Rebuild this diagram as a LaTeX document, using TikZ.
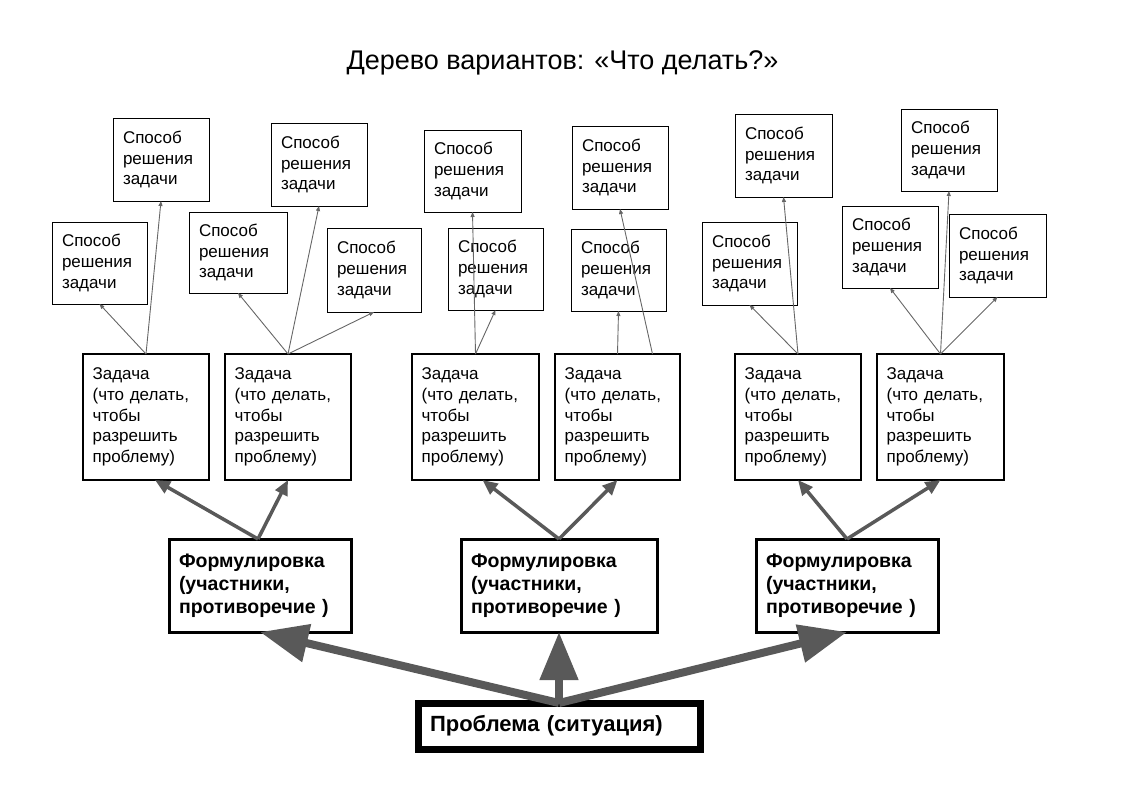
\documentclass[tikz,border=0pt]{standalone}
\usepackage{fontspec}
\setmainfont{Liberation Sans}
\usetikzlibrary{arrows.meta,calc}
\definecolor{arrgray}{RGB}{89,89,89}
\definecolor{thingray}{RGB}{102,102,102}
\newcommand\boxnode[8]{%
  \pgfmathsetmacro\bw{#5-#3}%
  \pgfmathsetmacro\bh{#6-#4}%
  \pgfmathsetmacro\tw{#5-#3-2*#8}%
  \node[#2, anchor=north west, outer sep=0pt, inner xsep=#8pt, inner ysep=0pt,
        align=left, minimum width=\bw pt, minimum height=\bh pt, text width=\tw pt]
        (#1) at (#3,#4) {#7};}
\begin{document}
\begin{tikzpicture}[x=1pt,y=-1pt,
  solbox/.style={draw=black, line width=1pt, font=\fontsize{17}{20.8}\selectfont},
  taskbox/.style={draw=black, line width=2pt, font=\fontsize{17}{20.8}\selectfont},
  formbox/.style={draw=black, line width=3pt, font=\fontsize{19.5}{23}\selectfont\bfseries},
  probbox/.style={draw=black, line width=7pt, font=\fontsize{22}{26}\selectfont\bfseries},
  smallarr/.style={draw=thingray, line width=0.9pt, -{Triangle[length=5pt,width=4pt]}},
  medarr/.style={draw=arrgray, line width=3.5pt, -{Triangle[length=15pt,width=13pt]}},
  bigarr/.style={draw=arrgray, line width=8pt, -{Triangle[length=48pt,width=37pt]}},
  titlestyle/.style={font=\fontsize{27}{31}\selectfont, anchor=base, inner sep=0pt}
]
\useasboundingbox (0,0) rectangle (1121,793);

\node[titlestyle] (title) at (562.5,69.8) {Дерево вариантов: «Что делать?»};

% solution boxes
\def\sol{Способ\\решения\\задачи}
\boxnode{A1}{solbox}{52}{222}{147}{304}{\sol}{10}
\boxnode{A2}{solbox}{113}{118}{209}{201}{\sol}{10}
\boxnode{B1}{solbox}{189}{212}{287}{293}{\sol}{10}
\boxnode{B2}{solbox}{271}{123}{367}{206}{\sol}{10}
\boxnode{B3}{solbox}{327}{228}{421}{312}{\sol}{10}
\boxnode{C1}{solbox}{448}{228}{543}{310}{\sol}{10}
\boxnode{C2}{solbox}{424}{130}{521}{212}{\sol}{10}
\boxnode{D1}{solbox}{571}{229}{666}{311}{\sol}{10}
\boxnode{D2}{solbox}{572}{126}{668}{209}{\sol}{10}
\boxnode{E1}{solbox}{702}{222}{797}{305}{\sol}{10}
\boxnode{E2}{solbox}{735}{114}{832}{197}{\sol}{10}
\boxnode{F1}{solbox}{842}{206}{938}{288}{\sol}{10}
\boxnode{F2}{solbox}{901}{109}{997}{191}{\sol}{10}
\boxnode{F3}{solbox}{949}{214}{1046}{297}{\sol}{10}

% task boxes
\def\task{Задача\\(что делать,\\чтобы\\разрешить\\проблему)}
\boxnode{T1}{taskbox}{83}{354}{209}{480}{\task}{9.6}
\boxnode{T2}{taskbox}{225}{354}{351}{480}{\task}{9.6}
\boxnode{T3}{taskbox}{412}{354}{539}{480}{\task}{9.6}
\boxnode{T4}{taskbox}{555}{354}{680}{480}{\task}{9.6}
\boxnode{T5}{taskbox}{735}{354}{861}{480}{\task}{9.6}
\boxnode{T6}{taskbox}{877}{354}{1004}{480}{\task}{9.6}

% formulation boxes
\def\form{Формулировка\\(участники,\\противоречие )}
\boxnode{P1}{formbox}{169}{539}{351}{632}{\form}{10}
\boxnode{P2}{formbox}{461}{539}{657}{632}{\form}{10}
\boxnode{P3}{formbox}{756}{539}{938}{632}{\form}{10}

% problem box
\boxnode{PR}{probbox}{418}{703}{700}{749}{Проблема (ситуация)}{12}

% task -> solution arrows
\draw[smallarr] (T1.north) -- (A1.south);
\draw[smallarr] (T1.north) -- (A2.south);
\draw[smallarr] (T2.north) -- (B1.south);
\draw[smallarr] (T2.north) -- (B2.south);
\draw[smallarr] (T2.north) -- (B3.south);
\draw[smallarr] (T3.north) -- (C2.south);
\draw[smallarr] (T3.north) -- (C1.south);
\draw[smallarr] (T4.north) -- (D1.south);
\coordinate (T4b) at ($(T4.north)+(35,0)$);
\draw[smallarr] (T4b) -- (D2.south);
\draw[smallarr] (T5.north) -- (E1.south);
\draw[smallarr] (T5.north) -- (E2.south);
\draw[smallarr] (T6.north) -- (F1.south);
\draw[smallarr] (T6.north) -- (F2.south);
\draw[smallarr] (T6.north) -- (F3.south);

% formulation -> task arrows
\coordinate (P1t) at ($(P1.north)+(-2,0)$);
\coordinate (T1b) at ($(T1.south)+(9,0)$);
\coordinate (T3b) at ($(T3.south)+(7,0)$);
\draw[medarr] (P1t) -- (T1b);
\draw[medarr] (P1t) -- (T2.south);
\draw[medarr] (P2.north) -- (T3b);
\draw[medarr] (P2.north) -- (T4.south);
\draw[medarr] (P3.north) -- (T5.south);
\draw[medarr] (P3.north) -- (T6.south);

% problem -> formulation arrows
\draw[bigarr] (PR.north) -- (P1.south);
\draw[bigarr] (PR.north) -- (P2.south);
\draw[bigarr] (PR.north) -- (P3.south);
\end{tikzpicture}
\end{document}
